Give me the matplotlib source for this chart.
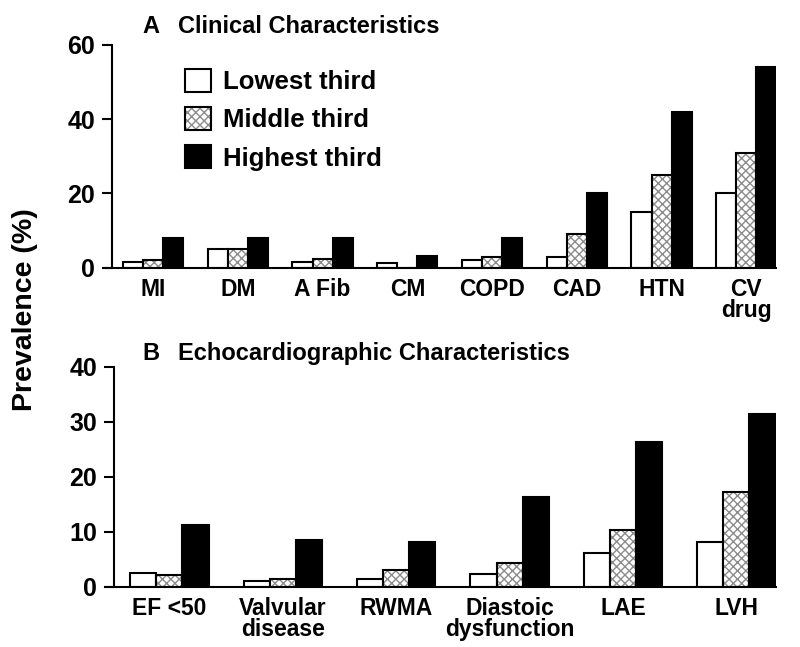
import numpy as np
import matplotlib
matplotlib.use("Agg")
import matplotlib.pyplot as plt
from matplotlib.patches import Patch
from matplotlib.legend_handler import HandlerTuple

plt.rcParams['font.family'] = ['Liberation Sans', 'DejaVu Sans']
plt.rcParams['font.weight'] = 'bold'
plt.rcParams['hatch.linewidth'] = 1.0

# --- DATA ---
series_names = ["Lowest third", "Middle third", "Highest third"]

clin_labels = ["MI", "DM", "A Fib", "CM", "COPD", "CAD", "HTN", "CV\ndrug"]
clin_low = [1.5, 5, 1.5, 1.2, 2, 3, 15, 20]
clin_mid = [2, 5, 2.5, 0, 3, 9, 25, 31]
clin_high = [8, 8, 8, 3.2, 8, 20, 42, 54]

echo_labels = ["EF <50", "Valvular\ndisease", "RWMA", "Diastoic\ndysfunction", "LAE", "LVH"]
echo_low = [2.5, 1.1, 1.5, 2.3, 6.2, 8.2]
echo_mid = [2.2, 1.5, 3.1, 4.3, 10.3, 17.2]
echo_high = [11.2, 8.6, 8.1, 16.3, 26.4, 31.4]


def draw_panel(ax, labels, low, mid, high, width, ymax, yticks, xmax):
    x = np.arange(len(labels))
    ax.bar(x - width, low, width, color='white', edgecolor='black', linewidth=1.5, zorder=2)
    # graue Kreuzschraffur, schwarzer Rand drüber
    ax.bar(x, mid, width, color='white', edgecolor='0.55', hatch='xxxx', linewidth=0, zorder=2)
    ax.bar(x, mid, width, fill=False, edgecolor='black', linewidth=1.5, zorder=3)
    ax.bar(x + width, high, width, color='black', edgecolor='black', linewidth=1.5, zorder=2)

    ax.set_xlim(-0.57, xmax)
    ax.set_ylim(0, ymax)
    ax.set_yticks(yticks)
    ax.set_xticks(x)
    ax.set_xticklabels(labels, fontsize=16.5, fontweight='bold', linespacing=0.9)
    ax.tick_params(axis='x', length=0, pad=7)
    ax.tick_params(axis='y', length=7, width=1.5, labelsize=18, pad=5)
    for lab in ax.get_yticklabels():
        lab.set_fontweight('bold')
    ax.spines['top'].set_visible(False)
    ax.spines['right'].set_visible(False)
    ax.spines['left'].set_position(('data', -0.49))
    ax.spines['left'].set_linewidth(1.5)
    ax.spines['bottom'].set_linewidth(1.5)


fig = plt.figure(figsize=(8, 6.47), dpi=100)
ax1 = fig.add_axes([0.131, 0.586, 0.839, 0.345])
ax2 = fig.add_axes([0.131, 0.093, 0.839, 0.340])

draw_panel(ax1, clin_labels, clin_low, clin_mid, clin_high, 0.237, 60, [0, 20, 40, 60], 7.35)
draw_panel(ax2, echo_labels, echo_low, echo_mid, echo_high, 0.23, 40, [0, 10, 20, 30, 40], 5.35)

fig.text(0.1775, 0.949, "A", fontsize=17, fontweight='bold', va='baseline')
fig.text(0.2225, 0.949, "Clinical Characteristics", fontsize=17, fontweight='bold', va='baseline')
fig.text(0.1775, 0.4436, "B", fontsize=17, fontweight='bold', va='baseline')
fig.text(0.2225, 0.4436, "Echocardiographic Characteristics", fontsize=17, fontweight='bold',
         va='baseline')

h_low = Patch(facecolor='white', edgecolor='black', linewidth=1.5)
h_mid = (Patch(facecolor='white', edgecolor='0.55', hatch='xxxx', linewidth=0),
         Patch(fill=False, edgecolor='black', linewidth=1.5))
h_high = Patch(facecolor='black', edgecolor='black', linewidth=1.5)
fig.legend([h_low, h_mid, h_high], series_names, loc='upper left',
           bbox_to_anchor=(185 / 800, 1 - 69 / 647), bbox_transform=fig.transFigure,
           frameon=False, borderpad=0, borderaxespad=0,
           handlelength=1.0, handleheight=1.0, handletextpad=0.47, labelspacing=0.5,
           handler_map={tuple: HandlerTuple(ndivide=1, pad=0)},
           prop={'weight': 'bold', 'size': 18.5})

fig.text(0.031, 0.522, "Prevalence (%)", rotation=90, fontsize=20.5, fontweight='bold',
         va='center', ha='center')

fig.savefig("out.png", dpi=100)
